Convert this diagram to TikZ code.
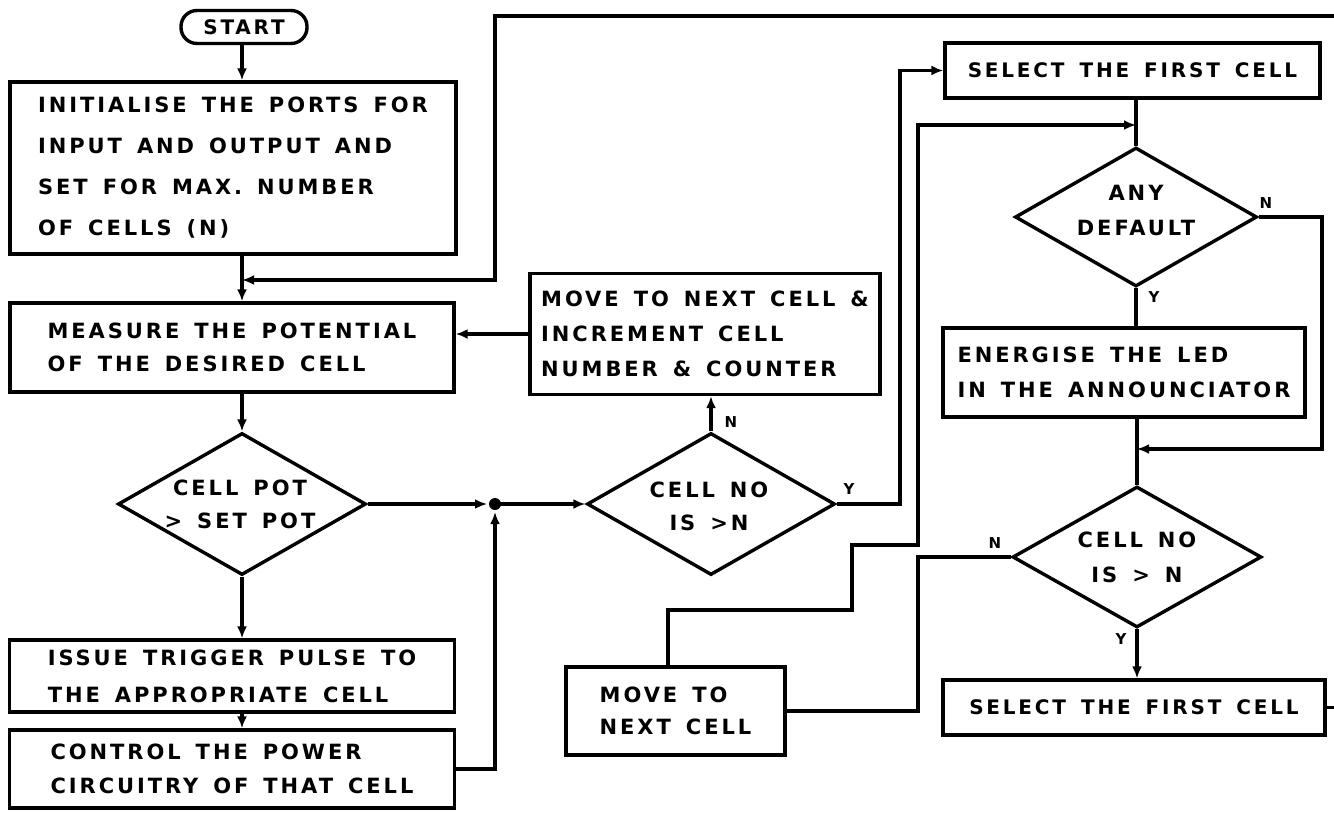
\documentclass[tikz,border=0pt]{standalone}
\usepackage{fontspec}
\newfontfamily\ff{DejaVu Sans}[LetterSpace=14]
\usetikzlibrary{shapes.geometric,arrows.meta}
\newcommand{\bt}[2]{\ff\bfseries\fontsize{#1}{#2}\selectfont\spaceskip=15pt plus 2pt\relax}
\begin{document}
\begin{tikzpicture}[x=1pt,y=-1pt,
  line width=3.4pt,
  conn/.style={line width=3.4pt},
  every node/.style={line width=3.4pt},
  box/.style={draw, rectangle, inner xsep=0pt, inner ysep=0pt, align=flush left},
  cbox/.style={draw, rectangle, inner xsep=0pt, inner ysep=0pt, align=center, font=\bt{20}{20}},
  term/.style={draw, rectangle, rounded corners=16pt, minimum width=126, minimum height=33, inner sep=0pt, font=\bt{20}{20}},
  dia/.style={draw, diamond, inner sep=0pt},
  dtext/.style={align=center, inner sep=0pt},
  lbl/.style={inner sep=0pt, font=\bt{15}{15}},
  arr/.style={conn, -{Latex[length=12pt,width=10pt]}}]
\useasboundingbox (0,0) rectangle (1334,812);

% nodes
\node[term] (start) at (244,27) {START};
\node[box, minimum width=446, minimum height=172, font=\bt{21}{41}] (init) at (233,168)
  {INITIALISE THE PORTS FOR\\INPUT AND OUTPUT AND\\SET FOR MAX. NUMBER\\OF CELLS (N)};
\node[box, minimum width=444, minimum height=89, font=\bt{21}{33}] (meas) at (232,347.5)
  {MEASURE THE POTENTIAL\\OF THE DESIRED CELL};
\node[dia, minimum width=248, minimum height=142] (d1) at (242,504) {};
\node[dtext, font=\bt{21}{33}] (d1t) at (240,504) {CELL POT\\> SET POT};
\node[box, minimum width=445, minimum height=72, font=\bt{21}{37}] (issue) at (232,676)
  {ISSUE TRIGGER PULSE TO\\THE APPROPRIATE CELL};
\node[box, minimum width=445, minimum height=78, font=\bt{21}{34}] (ctrl) at (232,769)
  {CONTROL THE POWER\\CIRCUITRY OF THAT CELL};
\node[box, minimum width=350, minimum height=121, font=\bt{21}{35}] (incr) at (705,334)
  {MOVE TO NEXT CELL \&\\INCREMENT CELL\\NUMBER \& COUNTER};
\node[dia, minimum width=248, minimum height=142] (d2) at (711,504) {};
\node[dtext, font=\bt{21}{33}] (d2t) at (709,506) {CELL NO\\IS >N};
\node[box, minimum width=219, minimum height=88, font=\bt{21}{32}] (mv) at (675.5,711)
  {MOVE TO\\NEXT CELL};
\node[cbox, minimum width=375, minimum height=55] (sel1) at (1132.5,70.5) {SELECT THE FIRST CELL};
\node[dia, minimum width=242, minimum height=139] (dflt) at (1136,217) {};
\node[dtext, font=\bt{21}{35}] (dfltt) at (1136,210) {ANY\\DEFAULT};
\node[box, minimum width=362, minimum height=89, font=\bt{21}{35}] (ener) at (1124,372.5)
  {ENERGISE THE LED\\IN THE ANNOUNCIATOR};
\node[dia, minimum width=249, minimum height=141] (d3) at (1137,557) {};
\node[dtext, font=\bt{21}{35}] (d3t) at (1137,557) {CELL NO\\IS > N};
\node[cbox, minimum width=382, minimum height=55] (sel2) at (1134,707.5) {SELECT THE FIRST CELL};

% labels
\node[lbl] (l1) at (731,422) {N};
\node[lbl] (l2) at (849,489) {Y};
\node[lbl] (l3) at (1266,203) {N};
\node[lbl] (l4) at (1154,297) {Y};
\node[lbl] (l5) at (995,543) {N};
\node[lbl] (l6) at (1121,639) {Y};

% coordinates
\coordinate (spine) at (242,0);
\coordinate (j) at (495,504);
\coordinate (tr) at (1345,16);
\coordinate (tl) at (495,16);
\coordinate (tj) at (495,280);
\coordinate (yb) at (900,0);
\coordinate (m1) at (668,610);
\coordinate (m2) at (852,610);
\coordinate (m3) at (852,545);
\coordinate (nb) at (918,125);
\coordinate (dr) at (1322,0);
\coordinate (eb) at (1137,449);

% connectors
\draw[arr] (start.south -| spine) -- (init.north -| spine);
\draw[arr] (init.south -| spine) -- (meas.north -| spine);
\draw[arr] (sel2.east) -- (sel2.east -| tr) -- (tr) -- (tl) -- (tj) -- (tj -| spine);
\draw[arr] (meas.south -| spine) -- (d1.north);
\draw[arr] (d1.south) -- (issue.north -| d1.south);
\draw[arr] (issue.south -| spine) -- (ctrl.north -| spine);
\draw[arr, shorten >=8pt] (d1.east) -- (j);
\draw[arr, shorten >=8pt] (ctrl.east) -- (ctrl.east -| j) -- (j);
\fill (j) circle (6pt);
\draw[arr] (j) -- (d2.west);
\draw[arr] (d2.north) -- (d2.north |- incr.south);
\draw[arr] (incr.west) -- (incr.west -| meas.east);
\draw[arr] (d2.east) -- (d2.east -| yb) -- (yb |- sel1.west) -- (sel1.west);
\draw[arr] (m1 |- mv.north) -- (m1) -- (m2) -- (m3) -- (m3 -| nb) -- (nb) -- (nb -| dflt.north);
\draw[conn] (d3.west) -- (d3.west -| nb) -- (nb |- mv.east) -- (mv.east);
\draw[conn] (dflt.north |- sel1.south) -- (dflt.north);
\draw[arr] (dflt.east) -- (dflt.east -| dr) -- (dr |- eb) -- (eb);
\draw[conn] (dflt.south) -- (dflt.south |- ener.north);
\draw[conn] (d3.north |- ener.south) -- (d3.north);
\draw[arr] (d3.south) -- (d3.south |- sel2.north);
\end{tikzpicture}
\end{document}
